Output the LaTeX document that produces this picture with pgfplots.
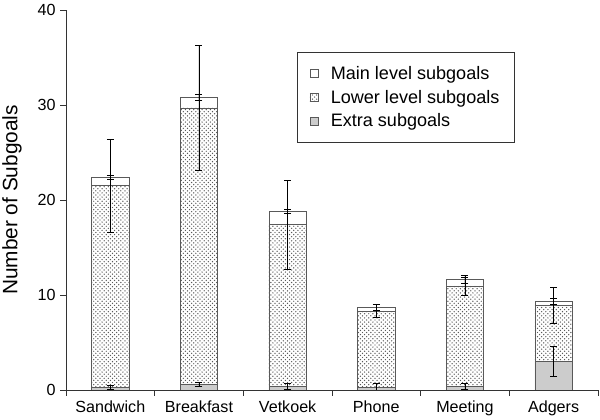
\documentclass[border=0pt]{standalone}
\usepackage{pgfplots}
\pgfplotsset{compat=1.18}
\usetikzlibrary{patterns}
\usepackage{fontspec}
\setmainfont{Liberation Sans}

\definecolor{barline}{gray}{0.35}
\definecolor{extrafill}{gray}{0.80}

\pgfplotsset{
    myerr/.style={
        error bars/.cd, y dir=both, y explicit,
        error bar style={black, line width=0.5pt},
        error mark options={rotate=90, mark size=2.5pt, black, line width=0.5pt},
    },
}

\begin{document}
\begin{tikzpicture}
\begin{axis}[
    scale only axis,
    width=383pt, height=273.6pt,
    ybar stacked,
    bar width=0.42,
    xmin=-0.5, xmax=5.5,
    ymin=0, ymax=40,
    axis lines=left,
    axis line style={-, black!80},
    xtick={-0.5,0.5,...,5.5},
    x tick label as interval,
    xticklabels={Sandwich,Breakfast,Vetkoek,Phone,Meeting,Adgers},
    ytick={0,10,20,30,40},
    tick align=outside,
    major tick length=4pt,
    tick style={black!80},
    /pgf/number format/assume math mode=true,
    ylabel={Number of Subgoals},
    y label style={at={(axis description cs:-0.1015,0.5)}, anchor=center,
        font=\fontsize{15}{18}\selectfont},
    ticklabel style={font=\fontsize{11.6}{14}\selectfont},
    reverse legend,
    legend style={at={(0.4342,0.8895)}, anchor=north west, draw=black!80,
        inner xsep=9pt, inner ysep=8pt, row sep=2.2pt,
        font=\fontsize{13}{15.6}\selectfont,
        /tikz/every odd column/.append style={column sep=7pt}},
    legend cell align=left,
    legend image code/.code={\draw[#1] (0pt,-2.9pt) rectangle (5.8pt,2.9pt);},
]
% Extra subgoals
\addplot[draw=barline, fill=extrafill, myerr] coordinates {
    (0,0.25) +- (0,0.2)
    (1,0.6) +- (0,0.25)
    (2,0.4) +- (0,0.3)
    (3,0.3) +- (0,0.4)
    (4,0.4) +- (0,0.3)
    (5,3.0) +- (0,1.55)
};
\addlegendentry{Extra subgoals}
% Lower level subgoals
\addplot[draw=barline, fill=white, postaction={pattern=crosshatch dots, pattern color=black!65}, myerr] coordinates {
    (0,21.25) +- (0,4.9)
    (1,29.1) +- (0,6.6)
    (2,17.0) +- (0,4.65)
    (3,8.0) +- (0,0.7)
    (4,10.55) +- (0,0.95)
    (5,5.9) +- (0,1.9)
};
\addlegendentry{Lower level subgoals}
% Main level subgoals
\addplot[draw=barline, fill=white, myerr] coordinates {
    (0,0.9) +- (0,0.2)
    (1,1.1) +- (0,0.3)
    (2,1.4) +- (0,0.25)
    (3,0.4) +- (0,0.3)
    (4,0.7) +- (0,0.4)
    (5,0.45) +- (0,0.3)
};
\addlegendentry{Main level subgoals}
\end{axis}
\pgfresetboundingbox
\path (current axis.south west) ++(-47.5pt,-21.6pt) rectangle ++(432pt,302.4pt);
\end{tikzpicture}
\end{document}
